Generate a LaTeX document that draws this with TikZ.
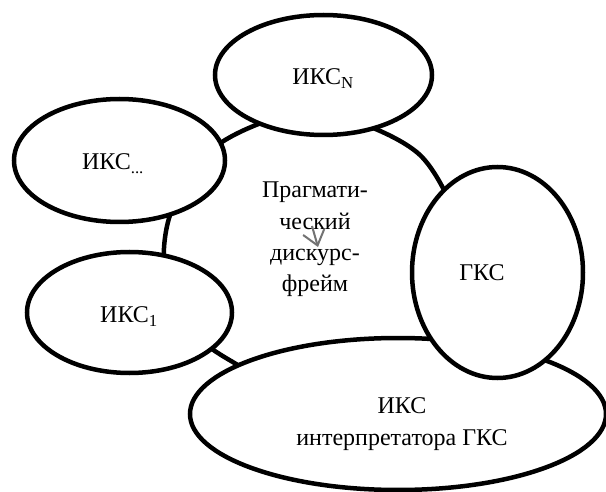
\documentclass[tikz,border=0pt]{standalone}
\usepackage{fontspec}
\setmainfont{Liberation Serif}
\usetikzlibrary{shapes.geometric,arrows.meta}
\definecolor{arrowgray}{RGB}{115,115,115}
\begin{document}
\begin{tikzpicture}[x=1pt,y=-1pt,
  oval/.style={ellipse, draw=black, line width=4.5pt, fill=white, inner sep=0pt},
  lbl/.style={font=\fontsize{24}{31.5}\selectfont, inner sep=0pt, align=center},
  rim/.style={draw=black, line width=4.5pt},
  pointer/.style={draw=arrowgray, line width=2pt, -{Straight Barb[length=14pt,width=22pt]}}]
\clip (0,0) rectangle (606,492);
\fill[white] (0,0) rectangle (606,492);
% large frame outline
\draw[rim] plot[smooth cycle] coordinates {(164,262) (174,205) (222,142) (315,112) (421,156) (466,262) (421,370) (318,400) (226,358) (182,320)};
% ellipses
\node[oval, minimum width=416pt, minimum height=152pt] (interp) at (398,414) {};
\node[oval, minimum width=171pt, minimum height=211pt] (gks) at (497.5,272.5) {};
\node[oval, minimum width=217pt, minimum height=120pt] (iksN) at (323.5,75) {};
\node[oval, minimum width=211pt, minimum height=123pt] (iksD) at (119.5,160.5) {};
\node[oval, minimum width=205pt, minimum height=121pt] (iks1) at (129.5,312.5) {};
% labels
\node[lbl, anchor=base] (tN) at (323,85) {ИКС\textsubscript{N}};
\node[lbl, anchor=base] (tD) at (113,170) {ИКС\textsubscript{...}};
\node[lbl, anchor=base] (t1) at (129,323) {ИКС\textsubscript{1}};
\node[lbl, anchor=base] (tG) at (482,280) {ГКС};
\node[lbl, anchor=base] (tI) at (402,445) {ИКС\\интерпретатора ГКС};
\node[lbl, anchor=base] (tF) at (315,292) {Прагмати-\\ческий\\дискурс-\\фрейм};
% small arrow
\coordinate (atail) at (312,226);
\coordinate (ahead) at (318,247);
\draw[pointer] (atail) -- (ahead);
\end{tikzpicture}
\end{document}
